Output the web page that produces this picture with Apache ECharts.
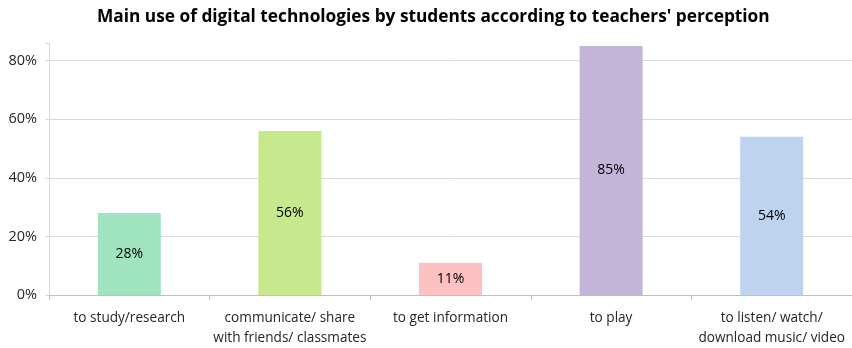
<!DOCTYPE html>
<html><head><meta charset="utf-8">
<script src="https://cdn.jsdelivr.net/npm/echarts@6/dist/echarts.min.js"></script>
<style>html,body{margin:0;padding:0;background:#fff}#c{width:852px;height:348px}</style>
</head><body><div id="c"></div>
<script>
const categories = ['to study/research', 'communicate/ share\nwith friends/ classmates', 'to get information', 'to play', 'to listen/ watch/\ndownload music/ video'];
const values = [28, 56, 11, 85, 54];
const colors = ['#9fe4bf', '#c6e98d', '#fdc1c1', '#c3b5d8', '#bdd3ee'];
const yTicks = [0, 20, 40, 60, 80];

const chart = echarts.init(document.getElementById('c'));
chart.setOption({
  animation: false,
  title: {
    text: "Main use of digital technologies by students according to teachers' perception",
    left: 92, top: 4,
    textStyle: {fontFamily: 'Open Sans', fontWeight: 'bold', fontSize: 17.3, color: '#000'}
  },
  grid: {left: 49, right: 0, top: 43, bottom: 51},
  xAxis: {
    type: 'category', data: categories,
    axisLine: {lineStyle: {color: '#bfbfbf'}},
    axisTick: {show: true, length: 5, lineStyle: {color: '#bfbfbf'}},
    axisLabel: {fontFamily: 'Open Sans', fontSize: 13.6, color: '#262626', margin: 13, lineHeight: 20, interval: 0}
  },
  yAxis: {
    type: 'value', min: 0, max: 86, interval: 20,
    axisLine: {show: true, lineStyle: {color: '#d9d9d9'}},
    axisTick: {show: true, length: 4, lineStyle: {color: '#d9d9d9'}},
    axisLabel: {fontFamily: 'Open Sans', fontSize: 14.5, color: '#262626', margin: 12,
      formatter: v => yTicks.includes(v) ? v + '%' : ''},
    splitLine: {lineStyle: {color: '#d9d9d9'}, showMaxLine: false}
  },
  series: [{
    type: 'bar', data: values.map((v, i) => ({value: v, itemStyle: {color: colors[i]}})),
    barWidth: 63,
    label: {show: true, position: 'inside', formatter: '{c}%', fontFamily: 'Open Sans', fontSize: 14, fontWeight: 500, color: '#000'}
  }]
});
</script></body></html>
